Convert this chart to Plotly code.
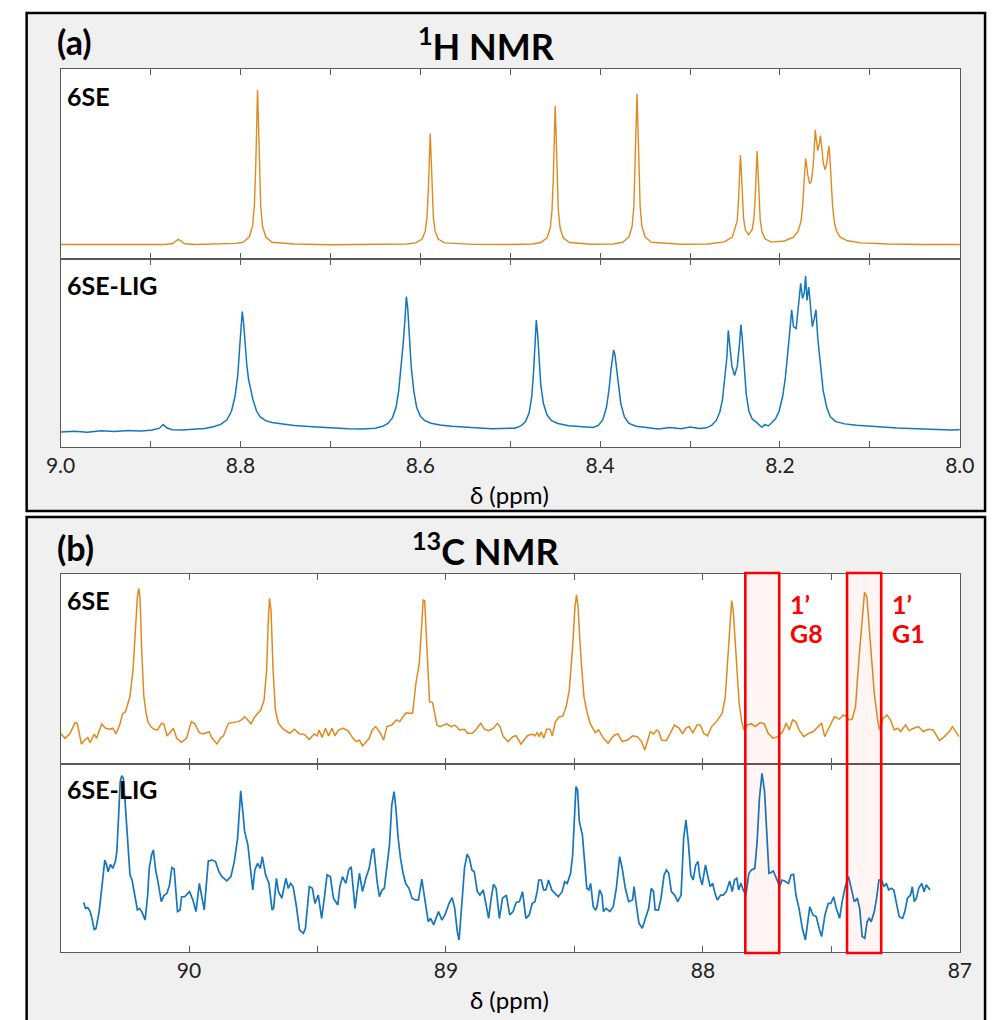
import plotly.graph_objects as go

# ---------------- DATA ----------------
# 1H NMR, 6SE (orange): chemical shift (ppm) and relative intensity (0-100)
H_6SE_PPM = [9.000, 8.960, 8.920, 8.885, 8.876, 8.872, 8.869, 8.866, 8.862, 8.850, 8.815, 8.805,
             8.797, 8.790, 8.7865, 8.7845, 8.783, 8.782, 8.781, 8.780, 8.779, 8.7775, 8.7755, 8.772,
             8.765, 8.740, 8.700, 8.650, 8.615,
             8.605, 8.598, 8.5945, 8.5925, 8.591, 8.590, 8.589, 8.588, 8.587, 8.5855, 8.5835, 8.580,
             8.573, 8.540, 8.500, 8.475,
             8.466, 8.459, 8.4555, 8.4535, 8.452, 8.451, 8.450, 8.449, 8.448, 8.4465, 8.4445, 8.441,
             8.434, 8.410, 8.385,
             8.375, 8.368, 8.3645, 8.3625, 8.361, 8.360, 8.359, 8.358, 8.357, 8.3555, 8.3535, 8.350,
             8.343, 8.310, 8.280,
             8.262, 8.253, 8.2475, 8.246, 8.245, 8.244, 8.243, 8.242, 8.2405, 8.2385, 8.235, 8.231,
             8.229, 8.2275, 8.2265, 8.2255, 8.2245, 8.2235, 8.222, 8.220, 8.2165, 8.2095,
             8.195, 8.185, 8.180, 8.1765, 8.1745, 8.173, 8.172, 8.1715, 8.1705, 8.169, 8.167, 8.165,
             8.163, 8.1617, 8.1607, 8.1597, 8.158, 8.1565, 8.155, 8.1538, 8.152, 8.150, 8.148, 8.1466,
             8.1456, 8.1446, 8.143, 8.1415, 8.1395, 8.137, 8.133, 8.125, 8.110, 8.080, 8.040, 8.000]
H_6SE_INT = [7.6, 7.5, 7.7, 7.6, 8.0, 9.6, 10.4, 9.4, 8.0, 7.6, 7.8, 8.2,
             8.8, 11.7, 17.4, 28.0, 48.3, 72.7, 89.0, 72.7, 48.3, 28.0, 17.4, 11.7,
             8.8, 7.9, 7.5, 7.6, 7.9,
             8.5, 10.5, 14.6, 22.2, 36.8, 54.3, 66.0, 54.3, 36.8, 22.2, 14.6, 10.5,
             8.5, 7.7, 7.6, 7.9,
             8.7, 11.2, 16.3, 25.8, 44.1, 65.9, 80.5, 65.9, 44.1, 25.8, 16.3, 11.2,
             8.7, 7.8, 7.9,
             8.8, 11.6, 17.1, 27.5, 47.3, 71.1, 87.0, 71.1, 47.3, 27.5, 17.1, 11.6,
             8.8, 7.8, 7.9,
             9.0, 11.5, 20.2, 31.9, 45.9, 54.7, 46.2, 32.2, 21.4, 15.1, 12.8, 15.3,
             21.2, 32.9, 47.3, 56.8, 47.1, 32.7, 20.5, 14.2, 10.5, 8.9,
             9.5, 11.5, 14.5, 20, 30, 42, 50, 53, 50, 44, 39.5, 41,
             50, 62, 68, 63, 57, 60, 65, 60, 51, 47, 50, 56,
             59.5, 54, 41, 28, 19, 14.5, 11.5, 9.6, 8.5, 7.9, 7.6, 7.6]

# 1H NMR, 6SE-LIG (blue)
H_LIG_PPM = [9.000, 8.985, 8.970, 8.955, 8.940, 8.925, 8.910, 8.898, 8.890, 8.886, 8.882, 8.876,
             8.865, 8.850, 8.840, 8.830, 8.822, 8.815, 8.810, 8.806, 8.803, 8.801, 8.7995, 8.798,
             8.7965, 8.795, 8.793, 8.791, 8.789, 8.786, 8.782, 8.778, 8.772, 8.765, 8.755, 8.740,
             8.720, 8.700, 8.680, 8.665,
             8.650, 8.642, 8.636, 8.631, 8.627, 8.624, 8.621, 8.619, 8.617, 8.6155, 8.614, 8.612,
             8.610, 8.607, 8.604, 8.600, 8.595, 8.588, 8.578, 8.565, 8.550, 8.535, 8.520, 8.505,
             8.495, 8.488, 8.483, 8.479, 8.476, 8.474, 8.4725, 8.471, 8.4695, 8.468, 8.466, 8.463,
             8.459, 8.454, 8.447, 8.435, 8.420,
             8.408, 8.402, 8.397, 8.393, 8.390, 8.388, 8.3865, 8.385, 8.3835, 8.382, 8.380, 8.377,
             8.373, 8.368, 8.360, 8.348, 8.335, 8.322, 8.310, 8.300, 8.290,
             8.282, 8.276, 8.271, 8.267, 8.264, 8.2615, 8.259, 8.2575, 8.256, 8.2535, 8.2505, 8.2475,
             8.245, 8.2435, 8.242, 8.240, 8.2375, 8.2345, 8.231, 8.227, 8.223, 8.220, 8.217, 8.213,
             8.209, 8.205, 8.201, 8.197, 8.194, 8.191, 8.189, 8.187, 8.185, 8.182, 8.179, 8.177,
             8.175, 8.173, 8.1715, 8.170, 8.168, 8.166, 8.164, 8.162, 8.160, 8.158, 8.155, 8.152,
             8.148, 8.144, 8.138, 8.128, 8.115, 8.100, 8.085, 8.070, 8.055, 8.040, 8.025, 8.010,
             8.000]
H_LIG_INT = [8.0, 8.4, 7.9, 8.6, 8.2, 8.8, 8.5, 9.0, 10.0, 12.0, 10.2, 9.2,
             9.0, 9.4, 9.8, 10.8, 12.0, 14.5, 19, 27, 38, 52, 65, 72,
             66, 56, 44, 36, 31, 25, 19, 16, 14, 13, 12.4, 11.5,
             10.8, 10.2, 9.7, 9.6,
             10.0, 11.0, 12.5, 15.5, 21, 30, 43, 55, 68, 80, 74, 58,
             42, 29, 21, 16.5, 14, 12.6, 11.7, 11.0, 10.4, 10.1, 9.7, 9.8,
             10.0, 11.2, 13.5, 18, 27, 40, 54, 67.5, 60, 46, 33, 23,
             17, 14, 12.5, 11.3, 10.8,
             10.4, 11.5, 14.5, 21, 31, 41, 48, 51.6, 49, 43, 34, 23,
             16, 12.5, 11.0, 10.2, 9.6, 10.4, 9.7, 10.6, 9.9,
             10.2, 11.5, 14, 18.5, 25, 35, 48, 62, 55, 43, 38, 43,
             55, 65, 58, 42, 28, 19, 15, 13.5, 12, 10.5, 12, 11.2,
             13, 15, 19, 27, 37, 50, 62, 73, 64, 63, 78, 87,
             79, 82, 91, 78, 85, 72, 64, 68, 73, 58, 42, 30,
             21, 16, 13.5, 12.3, 11.6, 11.0, 10.5, 10.1, 9.8, 9.4, 9.2, 9.0,
             9.2]

# 13C NMR, 6SE (orange)
C_6SE_PPM = [90.501, 90.482, 90.463, 90.444, 90.435, 90.419, 90.406, 90.394, 90.385, 90.369, 90.360, 90.340,
             90.325, 90.306, 90.297, 90.284, 90.268, 90.259, 90.247, 90.230, 90.218, 90.209, 90.201, 90.196,
             90.191, 90.184, 90.176, 90.167, 90.159, 90.149, 90.136, 90.123, 90.107, 90.098, 90.086, 90.076,
             90.061, 90.048, 90.029, 90.010, 89.991, 89.979, 89.960, 89.945, 89.932, 89.922, 89.910, 89.891,
             89.878, 89.866, 89.847, 89.834, 89.809, 89.796, 89.784, 89.771, 89.759, 89.744, 89.721, 89.708,
             89.698, 89.692, 89.687, 89.681, 89.673, 89.664, 89.652, 89.633, 89.608, 89.589, 89.570, 89.551,
             89.532, 89.513, 89.501, 89.494, 89.482, 89.469, 89.457, 89.444, 89.432, 89.419, 89.400, 89.381,
             89.362, 89.350, 89.337, 89.325, 89.312, 89.299, 89.287, 89.274, 89.255, 89.243, 89.230, 89.211,
             89.193, 89.180, 89.167, 89.155, 89.142, 89.130, 89.117, 89.104, 89.094, 89.089, 89.083, 89.077,
             89.069, 89.064, 89.052, 89.044, 89.035, 89.023, 88.998, 88.979, 88.966, 88.947, 88.928, 88.916,
             88.897, 88.884, 88.865, 88.850, 88.834, 88.815, 88.800, 88.790, 88.777, 88.758,
             88.740, 88.727, 88.708, 88.696, 88.683, 88.664, 88.654, 88.645, 88.637, 88.629, 88.620, 88.608,
             88.595, 88.586, 88.574, 88.561, 88.545, 88.532, 88.520, 88.507, 88.498, 88.492, 88.486, 88.476,
             88.463, 88.450, 88.438, 88.419, 88.406, 88.387, 88.369, 88.356, 88.343, 88.331, 88.314, 88.293,
             88.274, 88.255, 88.239, 88.226, 88.214, 88.205, 88.192, 88.180, 88.171, 88.161, 88.142, 88.123,
             88.111, 88.092, 88.079, 88.067, 88.054, 88.039, 88.023, 88.010, 87.997, 87.982, 87.966, 87.947,
             87.925, 87.913, 87.903, 87.894, 87.888, 87.882, 87.872, 87.859, 87.849, 87.840,
             87.827, 87.811, 87.796, 87.777, 87.761, 87.746, 87.727, 87.708, 87.689, 87.676, 87.664, 87.651,
             87.639, 87.626, 87.607, 87.588, 87.570, 87.551, 87.538, 87.526, 87.513, 87.500, 87.488, 87.469,
             87.454, 87.441, 87.431, 87.419, 87.406, 87.393, 87.381, 87.371, 87.362, 87.349, 87.333, 87.320,
             87.312, 87.299, 87.283, 87.270, 87.255, 87.242, 87.230, 87.211, 87.198, 87.180, 87.161, 87.142,
             87.123, 87.104, 87.079, 87.060, 87.041, 87.029, 87.016, 87.003]
C_6SE_INT = [16.2, 13.5, 16.2, 21.8, 21.4, 10.5, 12.6, 14.0, 11.2, 15.8, 13.5, 21.1,
             18.8, 18.3, 18.8, 15.8, 21.4, 26.3, 27.6, 35.5, 49.5, 70.5, 88.1, 92.5,
             88.1, 58.3, 35.5, 26.7, 21.8, 19.7, 18.3, 17.9, 21.4, 21.1, 14.9, 16.2,
             18.8, 13.5, 11.4, 13.5, 22.3, 21.4, 16.5, 15.8, 16.5, 17.0, 13.5, 10.5,
             13.5, 14.8, 21.4, 21.8, 22.3, 23.2, 24.9, 23.2, 21.1, 24.9, 28.4, 33.7,
             49.5, 74.0, 87.2, 81.0, 49.5, 28.4, 21.4, 18.3, 16.2, 18.3, 15.8, 15.6,
             13.0, 15.8, 14.8, 17.9, 14.0, 18.8, 14.8, 18.8, 14.8, 17.9, 18.8, 17.5,
             13.5, 11.8, 12.6, 9.5, 11.8, 13.5, 17.9, 19.7, 16.2, 12.6, 19.7, 20.5,
             23.2, 22.3, 24.9, 27.0, 26.7, 26.7, 42.5, 53.0, 74.0, 86.3, 86.0, 67.0,
             42.5, 32.8, 32.3, 25.8, 20.5, 19.7, 21.1, 19.7, 20.5, 17.9, 18.3, 16.2,
             16.2, 17.9, 21.4, 18.3, 17.5, 18.8, 21.4, 19.7, 14.4, 11.8,
             14.4, 14.9, 10.5, 12.6, 14.9, 15.8, 14.8, 16.5, 14.4, 17.0, 13.5, 18.3,
             18.3, 14.8, 22.3, 24.6, 25.3, 30.2, 39.0, 61.8, 82.8, 89.0, 82.8, 58.3,
             35.5, 26.7, 21.1, 16.5, 17.9, 13.5, 10.9, 13.5, 15.3, 15.8, 11.8, 12.6,
             14.8, 14.4, 11.8, 7.4, 12.6, 17.0, 15.8, 17.9, 17.0, 12.6, 12.3, 17.0,
             20.5, 18.8, 15.8, 18.8, 19.7, 16.5, 20.5, 20.5, 16.2, 14.8, 19.7, 22.3,
             26.7, 35.5, 58.3, 77.5, 86.0, 81.0, 58.3, 31.9, 22.3, 17.9,
             20.6, 21.1, 19.7, 21.8, 21.1, 16.2, 13.6, 14.4, 17.1, 21.5, 17.9, 23.2,
             22.3, 17.9, 14.4, 16.2, 17.1, 19.7, 21.5, 14.4, 17.9, 21.5, 25.0, 23.6,
             25.8, 25.0, 23.2, 23.6, 30.2, 54.8, 75.8, 90.4, 88.1, 63.6, 37.2, 23.2,
             17.9, 24.1, 25.8, 23.2, 17.9, 18.8, 17.1, 20.6, 17.6, 18.8, 19.7, 17.1,
             18.3, 17.9, 12.3, 14.4, 17.1, 19.7, 17.1, 14.4]

# 13C NMR, 6SE-LIG (blue)
C_LIG_PPM = [90.410, 90.403, 90.394, 90.385, 90.378, 90.369, 90.362, 90.350, 90.337, 90.328, 90.321, 90.315,
             90.306, 90.297, 90.287, 90.281, 90.274, 90.268, 90.262, 90.256, 90.249, 90.239, 90.230, 90.222,
             90.212, 90.201, 90.193, 90.184, 90.171, 90.161, 90.155, 90.146, 90.139, 90.130, 90.121, 90.108,
             90.098, 90.086, 90.076, 90.067, 90.058, 90.045, 90.035, 90.029, 90.017, 89.998, 89.985, 89.973,
             89.960, 89.950, 89.941, 89.925, 89.910, 89.897, 89.884, 89.872, 89.853, 89.837, 89.824, 89.811,
             89.806, 89.799, 89.790, 89.784, 89.771, 89.762, 89.752, 89.744, 89.733, 89.723, 89.715, 89.702,
             89.689, 89.677, 89.671, 89.660, 89.652, 89.639, 89.623, 89.614, 89.605, 89.595, 89.583, 89.570,
             89.555, 89.547, 89.532, 89.520, 89.510, 89.497, 89.484, 89.472, 89.463, 89.450, 89.438, 89.421,
             89.413, 89.403, 89.390, 89.379, 89.369, 89.354, 89.337, 89.325, 89.312, 89.299, 89.287, 89.281,
             89.268, 89.259, 89.249, 89.240, 89.230, 89.220, 89.211, 89.202, 89.195, 89.186, 89.177, 89.167,
             89.157, 89.144, 89.132, 89.119, 89.107, 89.094, 89.081, 89.069, 89.060, 89.048, 89.039, 89.029,
             89.016, 89.004, 88.988, 88.976, 88.966, 88.956, 88.949, 88.941, 88.928, 88.918, 88.909, 88.899,
             88.890, 88.878, 88.868, 88.855, 88.846, 88.834, 88.824, 88.815, 88.805, 88.792, 88.780, 88.765,
             88.752, 88.739, 88.727, 88.714, 88.702, 88.689, 88.676, 88.664, 88.654, 88.645, 88.639, 88.629,
             88.620, 88.611, 88.601, 88.588, 88.576, 88.563, 88.548, 88.538, 88.528, 88.515, 88.507, 88.500,
             88.494, 88.488, 88.481, 88.469, 88.463, 88.452, 88.444, 88.437, 88.427, 88.418, 88.412, 88.402,
             88.393, 88.387, 88.377, 88.362, 88.349, 88.337, 88.324, 88.314, 88.302, 88.289, 88.274, 88.268,
             88.259, 88.249, 88.236, 88.224, 88.211, 88.201, 88.192, 88.186, 88.173, 88.163, 88.151, 88.142,
             88.133, 88.123, 88.110, 88.098, 88.085, 88.075,
             88.066, 88.057, 88.047, 88.038, 88.028, 88.019, 88.012, 88.003, 87.990, 87.982, 87.972, 87.962,
             87.953, 87.944, 87.931, 87.921, 87.909, 87.896, 87.886, 87.877, 87.868, 87.861, 87.852, 87.843,
             87.833, 87.821, 87.811, 87.798, 87.789, 87.780, 87.770, 87.760, 87.751, 87.743, 87.733, 87.726,
             87.714, 87.701, 87.692, 87.682, 87.667, 87.657, 87.647, 87.638, 87.626, 87.613, 87.601, 87.592,
             87.584, 87.572, 87.559, 87.546, 87.538, 87.525, 87.512, 87.502, 87.491, 87.481, 87.468, 87.458,
             87.446, 87.433, 87.421, 87.411, 87.399, 87.390, 87.380, 87.370, 87.361, 87.353, 87.345, 87.333,
             87.324, 87.315, 87.305, 87.295, 87.286, 87.277, 87.267, 87.257, 87.248, 87.236, 87.223, 87.214,
             87.204, 87.192, 87.185, 87.177, 87.169, 87.160, 87.148, 87.139, 87.131, 87.122, 87.116]
C_LIG_INT = [26.4, 23.2, 23.6, 21.5, 17.9, 11.7, 12.6, 21.5, 37.4, 48.9, 46.3, 42.7,
             46.6, 44.5, 48.1, 53.4, 72.9, 90.6, 93.8, 92.4, 80.0, 58.7, 41.0, 38.3,
             30.3, 22.4, 23.2, 21.5, 17.0, 30.3, 44.5, 51.6, 54.3, 43.6, 37.4, 26.8,
             30.0, 31.2, 35.7, 44.9, 44.2, 21.5, 22.4, 29.4, 29.4, 32.1, 27.7, 21.5,
             36.5, 28.6, 22.4, 48.4, 48.9, 48.1, 42.7, 40.1, 37.8, 40.1, 48.1, 60.5,
             69.3, 85.7, 73.8, 64.4, 56.9, 44.5, 33.0, 43.6, 47.2, 44.5, 50.7, 41.0,
             36.5, 22.4, 23.2, 39.2, 32.1, 28.6, 39.2, 33.9, 36.5, 34.8, 25.0, 11.7,
             9.9, 12.6, 34.8, 33.9, 25.9, 30.3, 17.9, 30.3, 41.0, 40.1, 28.6, 25.0,
             34.8, 40.1, 36.5, 43.6, 45.4, 23.2, 41.9, 32.1, 39.2, 44.5, 54.3, 54.8,
             37.4, 29.4, 33.0, 33.9, 44.5, 56.9, 78.2, 85.3, 76.4, 60.5, 49.8, 41.9,
             36.5, 33.9, 28.6, 27.7, 27.7, 38.8, 26.8, 16.1, 17.9, 14.4, 17.9, 21.5,
             17.0, 19.7, 25.9, 28.9, 23.2, 10.8, 6.4, 23.2, 44.5, 52.0, 49.8, 43.6,
             42.7, 32.1, 30.3, 33.0, 26.8, 17.9, 28.6, 36.0, 33.9, 17.9, 28.6, 30.3,
             19.7, 21.5, 26.4, 26.8, 32.1, 17.9, 19.7, 25.9, 26.8, 32.1, 38.3, 38.3,
             33.0, 33.0, 38.3, 33.0, 31.2, 29.4, 32.1, 37.4, 36.5, 41.9, 51.6, 73.8,
             88.0, 86.2, 69.3, 62.2, 53.4, 33.9, 33.0, 36.5, 24.1, 22.4, 24.1, 33.0,
             30.3, 21.5, 23.2, 21.5, 24.1, 33.9, 50.7, 44.5, 33.9, 26.8, 27.7, 34.8,
             25.0, 15.3, 12.6, 17.9, 23.2, 33.9, 32.1, 22.4, 22.4, 28.6, 41.0, 43.6,
             41.9, 32.1, 30.3, 26.8, 30.3, 60.5,
             70.2, 58.7, 41.0, 38.3, 46.3, 48.1, 40.1, 35.7, 46.3, 41.0, 34.8, 36.5,
             31.2, 27.7, 30.3, 30.3, 32.1, 37.8, 32.1, 38.3, 39.2, 33.0, 36.5, 33.0,
             30.3, 41.9, 43.6, 44.5, 58.7, 81.8, 95.0, 85.3, 60.5, 41.9, 42.4, 43.1,
             39.2, 34.8, 38.3, 37.8, 36.5, 41.0, 41.3, 30.3, 23.2, 12.6, 6.4, 16.1,
             24.1, 19.7, 18.8, 11.7, 8.2, 19.7, 25.9, 25.9, 29.4, 23.2, 17.9, 26.8,
             34.8, 40.1, 33.0, 26.8, 28.6, 23.2, 8.2, 7.3, 16.1, 17.9, 16.1, 21.5,
             28.6, 38.3, 38.3, 34.8, 36.5, 33.0, 33.9, 33.0, 26.8, 18.8, 17.9, 21.5,
             28.6, 30.3, 34.8, 26.8, 28.6, 33.9, 36.5, 32.1, 35.7, 34.2, 33.0]

# axes: ranges and ticks
H_RANGE = [9.0, 8.0]
H_MAJOR = [9.0, 8.8, 8.6, 8.4, 8.2, 8.0]
H_MAJOR_TEXT = ["9.0", "8.8", "8.6", "8.4", "8.2", "8.0"]
H_MINOR = [8.9, 8.7, 8.5, 8.3, 8.1]
C_RANGE = [90.5, 87.0]
C_MAJOR = [90.0, 89.0, 88.0, 87.0]
C_MAJOR_TEXT = ["90", "89", "88", "87"]
C_MINOR = [89.5, 88.5, 87.5]

# highlighted 13C regions (ppm) and their labels
BOX_PPM = [(87.835, 87.703), (87.439, 87.306)]
BOX_LABELS = [("1’", "G8"), ("1’", "G1")]

# ---------------- FIGURE ----------------
W, H = 1002, 1020
ORANGE = "#E08A1E"
BLUE = "#1576BE"
AX = "#5a5a5a"
FONT = "Lato"


def fx(p):
    return p / W


def fy(p):
    return 1 - p / H


XDOM = [fx(47), fx(974)]
ROWS = [(69, 259), (259, 447), (574, 764), (764, 952)]

fig = go.Figure()
fig.add_trace(go.Scatter(x=H_6SE_PPM, y=H_6SE_INT, mode="lines",
                         line=dict(color=ORANGE, width=1.4), xaxis="x", yaxis="y"))
fig.add_trace(go.Scatter(x=H_LIG_PPM, y=H_LIG_INT, mode="lines",
                         line=dict(color=BLUE, width=1.5), xaxis="x2", yaxis="y2"))
fig.add_trace(go.Scatter(x=C_6SE_PPM, y=C_6SE_INT, mode="lines",
                         line=dict(color=ORANGE, width=1.5), xaxis="x3", yaxis="y3"))
fig.add_trace(go.Scatter(x=C_LIG_PPM, y=C_LIG_INT, mode="lines",
                         line=dict(color=BLUE, width=1.7), xaxis="x4", yaxis="y4"))


def xaxis(anchor, rng, major, text, minor, labels):
    return dict(domain=XDOM, anchor=anchor, range=rng, tickmode="array", tickvals=major,
                ticktext=text, showticklabels=labels, ticks="inside", ticklen=6, tickwidth=1.3,
                tickcolor=AX, showline=True, linecolor=AX, linewidth=1.2, mirror="ticks",
                showgrid=False, zeroline=False, fixedrange=True,
                minor=dict(tickmode="array", tickvals=minor, ticks="inside", ticklen=6,
                           tickwidth=1.3, tickcolor=AX, showgrid=False),
                tickfont=dict(family=FONT, size=21, color="#222"))


def yaxis(anchor, row):
    t, b = ROWS[row]
    return dict(domain=[fy(b), fy(t)], anchor=anchor, range=[0, 100], showticklabels=False,
                ticks="", showline=True, linecolor=AX, linewidth=1.2, mirror=True,
                showgrid=False, zeroline=False, fixedrange=True)


shapes = [
    dict(type="rect", xref="paper", yref="paper", x0=fx(12), x1=fx(1000), y0=fy(1030), y1=fy(517),
         fillcolor="#f0f0f0", line=dict(color="black", width=2.5), layer="below"),
    dict(type="rect", xref="paper", yref="paper", x0=fx(12), x1=fx(1000), y0=fy(511), y1=fy(13),
         fillcolor="#f0f0f0", line=dict(color="black", width=2.5), layer="below"),
    dict(type="rect", xref="paper", yref="paper", x0=XDOM[0], x1=XDOM[1], y0=fy(447), y1=fy(69),
         fillcolor="white", line=dict(width=0), layer="below"),
    dict(type="rect", xref="paper", yref="paper", x0=XDOM[0], x1=XDOM[1], y0=fy(952), y1=fy(574),
         fillcolor="white", line=dict(width=0), layer="below"),
]
for (a, b) in BOX_PPM:
    shapes.append(dict(type="rect", xref="x3", yref="paper", x0=a, x1=b, y0=fy(953), y1=fy(573),
                       fillcolor="rgba(255,0,0,0.04)", line=dict(color="#ff0000", width=2.6),
                       layer="above"))


def ann(text, x, y, size, bold=False, color="black", xanchor="left"):
    t = f"<b>{text}</b>" if bold else text
    return dict(text=t, x=fx(x), y=fy(y), xref="paper", yref="paper", xanchor=xanchor,
                yanchor="middle", showarrow=False, font=dict(family=FONT, size=size, color=color))


annotations = [
    ann("(a)", 41, 42, 34, bold=True),
    ann("<sup>1</sup>H NMR", 486, 44, 36, bold=True, xanchor="center"),
    ann("6SE", 52, 96, 25, bold=True),
    ann("6SE-LIG", 52, 285, 25, bold=True),
    ann("δ (ppm)", 510, 494, 24, xanchor="center"),
    ann("(b)", 41, 547, 34, bold=True),
    ann("<sup>13</sup>C NMR", 486, 549, 36, bold=True, xanchor="center"),
    ann("6SE", 52, 600, 25, bold=True),
    ann("6SE-LIG", 52, 789, 25, bold=True),
    ann("δ (ppm)", 510, 999, 24, xanchor="center"),
]
label_x = [797, 902]
for (l1, l2), lx in zip(BOX_LABELS, label_x):
    annotations.append(ann(l1, lx, 604, 25, bold=True, color="#ff0000"))
    annotations.append(ann(l2, lx, 633, 25, bold=True, color="#ff0000"))

fig.update_layout(
    width=W, height=H, margin=dict(l=0, r=0, t=0, b=0),
    paper_bgcolor="white", plot_bgcolor="rgba(0,0,0,0)", showlegend=False,
    xaxis=xaxis("y", H_RANGE, H_MAJOR, H_MAJOR_TEXT, H_MINOR, False),
    yaxis=yaxis("x", 0),
    xaxis2=xaxis("y2", H_RANGE, H_MAJOR, H_MAJOR_TEXT, H_MINOR, True),
    yaxis2=yaxis("x2", 1),
    xaxis3=xaxis("y3", C_RANGE, C_MAJOR, C_MAJOR_TEXT, C_MINOR, False),
    yaxis3=yaxis("x3", 2),
    xaxis4=xaxis("y4", C_RANGE, C_MAJOR, C_MAJOR_TEXT, C_MINOR, True),
    yaxis4=yaxis("x4", 3),
    shapes=shapes, annotations=annotations,
)

fig.write_html("out.html", config={"displayModeBar": False},
               post_script="document.body.style.margin='0';")
